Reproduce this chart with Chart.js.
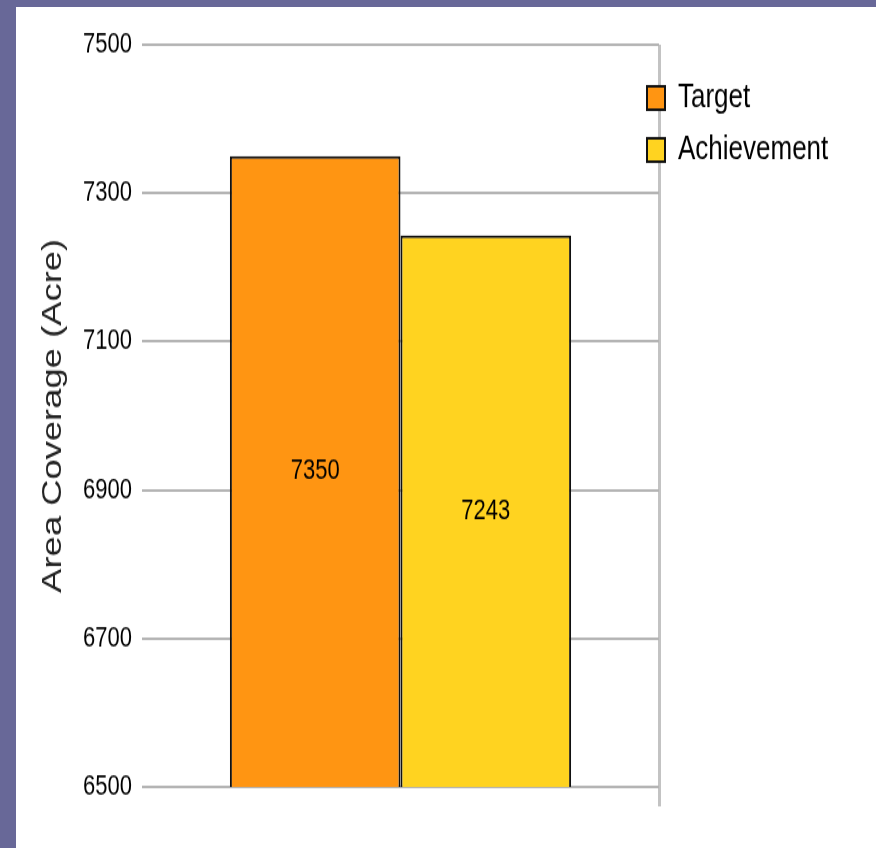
<!DOCTYPE html>
<html>
<head>
<meta charset="utf-8">
<script src="https://cdn.jsdelivr.net/npm/chart.js@4/dist/chart.umd.min.js"></script>
<style>
  html, body { margin: 0; padding: 0; }
  body { width: 876px; height: 848px; background: #686898; position: relative; overflow: hidden; }
  #frame { position: absolute; left: 16px; top: 7px; width: 860px; height: 841px; background: #fff; }
  /* drawn at 647px high, shown 841px high */
  #coverageChart { display: block; width: 860px; height: 841px; }
</style>
</head>
<body>
<div id="frame"><canvas id="coverageChart" width="860" height="647" style="width:860px;height:841px"></canvas></div>
<script>
const categories = ["Coverage"];
const seriesNames = ["Target", "Achievement"];
const targetValues = [7350];
const achievementValues = [7243];
const seriesColors = ["#ff9512", "#ffd320"];
const yTicks = [6500, 6700, 6900, 7100, 7300, 7500];

const sans = "'Liberation Sans', Arial, sans-serif";

// writes each bar's value in the middle of the bar
const barValues = {
  id: "barValues",
  afterDraw(chart) {
    const ctx = chart.ctx;
    const yScale = chart.scales.y;
    const bottom = yScale.getPixelForValue(yScale.min);
    ctx.save();
    ctx.font = "22px " + sans;
    ctx.fillStyle = "#000";
    ctx.textAlign = "center";
    ctx.textBaseline = "middle";
    chart.data.datasets.forEach((ds, i) => {
      const bars = chart.getDatasetMeta(i).data;
      ds.data.forEach((v, j) => {
        const top = yScale.getPixelForValue(v);
        ctx.fillText(String(v), bars[j].x, (top + bottom) / 2);
      });
    });
    ctx.restore();
  }
};

// legend sits across the right edge of the plot, near the top
const legendPlace = {
  id: "legendPlace",
  afterLayout(chart) {
    const lg = chart.legend;
    const area = chart.chartArea;
    const w = lg.width, h = lg.height;
    lg.left = area.right - 26;
    lg.top = area.top + 14;
    lg.right = lg.left + w;
    lg.bottom = lg.top + h;
  }
};

new Chart(document.getElementById("coverageChart"), {
  type: "bar",
  data: {
    labels: categories,
    datasets: [
      { label: seriesNames[0], data: targetValues, backgroundColor: seriesColors[0] },
      { label: seriesNames[1], data: achievementValues, backgroundColor: seriesColors[1] }
    ].map(ds => Object.assign(ds, {
      borderColor: "#111",
      borderWidth: 2,
      borderSkipped: false,
      categoryPercentage: 0.66,
      barPercentage: 1
    }))
  },
  options: {
    responsive: false,
    animation: false,
    layout: { padding: { top: 29, right: 217, bottom: 32, left: 0 } },
    plugins: {
      legend: {
        position: "chartArea",
        align: "start",
        labels: {
          font: { family: sans, size: 26 },
          color: "#000",
          boxWidth: 18,
          boxHeight: 18,
          padding: 14
        }
      },
      tooltip: { enabled: false }
    },
    scales: {
      x: {
        ticks: { display: false },
        border: { display: false },
        grid: {
          // only the closing line on the right edge is shown
          color: c => c.type === "tick" ? "rgba(0,0,0,0)" : "#c3c3c3",
          lineWidth: 3,
          drawTicks: true,
          tickLength: 15
        }
      },
      y: {
        min: yTicks[0],
        max: yTicks[yTicks.length - 1],
        afterBuildTicks: scale => { scale.ticks = yTicks.map(v => ({ value: v })); },
        afterFit: scale => { scale.width = 126; },
        border: { display: false },
        grid: { color: "#b4b4b4", lineWidth: 2, drawTicks: false },
        ticks: {
          font: { family: sans, size: 22 },
          color: "#000",
          padding: 10,
          callback: v => String(v)
        },
        title: {
          display: true,
          text: "Area Coverage (Acre)",
          font: { family: sans, size: 28 },
          color: "#222",
          padding: { top: 20, bottom: 0 }
        }
      }
    }
  },
  plugins: [barValues, legendPlace]
});
</script>
</body>
</html>
